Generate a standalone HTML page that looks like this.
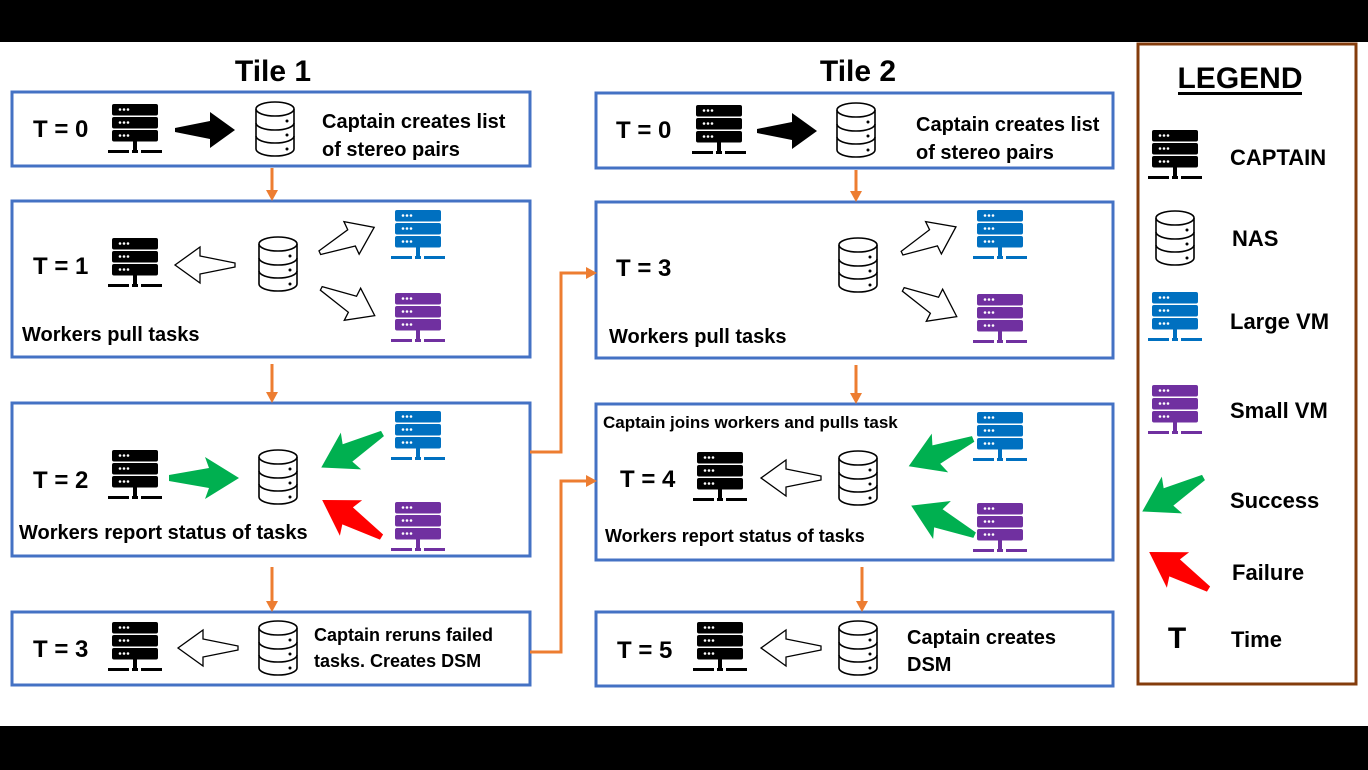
<!DOCTYPE html>
<html><head><meta charset="utf-8"><style>
html,body{margin:0;padding:0;background:#000;}
svg{display:block;}
text{font-family:"Liberation Sans",sans-serif;font-weight:bold;fill:#000;}
</style></head><body>
<svg width="1368" height="770" viewBox="0 0 1368 770" xmlns="http://www.w3.org/2000/svg">
<defs>
<symbol id="srv" viewBox="0 0 46 52" overflow="visible">
  <rect x="0" y="0" width="46" height="11.5" rx="2"/>
  <rect x="0" y="13" width="46" height="11.5" rx="2"/>
  <rect x="0" y="26" width="46" height="11.5" rx="2"/>
  <rect x="21" y="37" width="4" height="10"/>
  <rect x="-4" y="46" width="21" height="3"/>
  <rect x="29" y="46" width="21" height="3"/>
  <rect x="20" y="46" width="6" height="3"/>
  <g fill="#fff"><circle cx="8" cy="5.5" r="1.3"/><circle cx="12" cy="5.5" r="1.3"/><circle cx="16" cy="5.5" r="1.3"/>
  <circle cx="8" cy="18.5" r="1.3"/><circle cx="12" cy="18.5" r="1.3"/><circle cx="16" cy="18.5" r="1.3"/>
  <circle cx="8" cy="31.5" r="1.3"/><circle cx="12" cy="31.5" r="1.3"/><circle cx="16" cy="31.5" r="1.3"/></g>
</symbol>
<symbol id="db" viewBox="0 0 40 56" overflow="visible">
  <g fill="#fff" stroke="#000" stroke-width="1.6">
  <path d="M1,8 L1,48 A19,7 0 0 0 39,48 L39,8"/>
  <ellipse cx="20" cy="8" rx="19" ry="7"/>
  <path d="M1,22 A19,7 0 0 0 39,22" fill="none"/>
  <path d="M1,35 A19,7 0 0 0 39,35" fill="none"/>
  </g>
  <circle cx="32" cy="20" r="1.5"/><circle cx="32" cy="34" r="1.5"/><circle cx="32" cy="48" r="1.5"/>
</symbol>
<symbol id="arr" viewBox="-30 -20 60 40" overflow="visible">
  <polygon points="-30,-2 5,-9 5,-18 30,0 5,18 5,9 -30,2"/>
</symbol>
<symbol id="carr" viewBox="-30 -20 60 40" overflow="visible">
  <polygon points="-36,-3 4,-10 0,-21 34,0 0,21 4,10 -36,3"/>
</symbol>
</defs>
<rect x="0" y="42" width="1368" height="684" fill="#fff"/>

<text x="273" y="81" font-size="30" text-anchor="middle">Tile 1</text>
<text x="858" y="81" font-size="30" text-anchor="middle">Tile 2</text>

<g fill="none" stroke="#4472C4" stroke-width="3">
<rect x="12" y="92" width="518" height="74"/>
<rect x="12" y="201" width="518" height="156"/>
<rect x="12" y="403" width="518" height="153"/>
<rect x="12" y="612" width="518" height="73"/>
<rect x="596" y="93" width="517" height="75"/>
<rect x="596" y="202" width="517" height="156"/>
<rect x="596" y="404" width="517" height="156"/>
<rect x="596" y="612" width="517" height="74"/>
</g>
<rect x="1138" y="44" width="218" height="640" fill="none" stroke="#843C0C" stroke-width="3"/>

<g stroke="#ED7D31" stroke-width="3" fill="none">
<line x1="272" y1="168" x2="272" y2="192"/>
<line x1="272" y1="364" x2="272" y2="394"/>
<line x1="272" y1="567" x2="272" y2="603"/>
<line x1="856" y1="170" x2="856" y2="193"/>
<line x1="856" y1="365" x2="856" y2="395"/>
<line x1="862" y1="567" x2="862" y2="603"/>
<polyline points="530,452 561,452 561,273 588,273"/>
<polyline points="530,652 561,652 561,481 588,481"/>
</g>
<g fill="#ED7D31">
<polygon points="266,190 278,190 272,201"/>
<polygon points="266,392 278,392 272,403"/>
<polygon points="266,601 278,601 272,612"/>
<polygon points="850,191 862,191 856,202"/>
<polygon points="850,393 862,393 856,404"/>
<polygon points="856,601 868,601 862,612"/>
<polygon points="586,267 586,279 597,273"/>
<polygon points="586,475 586,487 597,481"/>
</g>

<text x="33" y="137" font-size="24">T = 0</text>
<use href="#srv" x="112" y="104" width="46" height="52"/>
<use href="#arr" x="175" y="110" width="60" height="40"/>
<use href="#db" x="255" y="101" width="40" height="56"/>
<text x="322" y="128" font-size="20">Captain creates list</text>
<text x="322" y="156" font-size="20">of stereo pairs</text>

<text x="33" y="274" font-size="24">T = 1</text>
<use href="#srv" x="112" y="238" width="46" height="52"/>
<g fill="#fff" stroke="#000" stroke-width="1.3">
<use href="#arr" transform="translate(205,265) rotate(180)" x="-30" y="-20" width="60" height="40"/>
<use href="#arr" transform="translate(347,240) rotate(-25)" x="-30" y="-20" width="60" height="40"/>
<use href="#arr" transform="translate(348,302) rotate(27)" x="-30" y="-20" width="60" height="40"/>
<use href="#arr" transform="translate(208,648) rotate(180)" x="-30" y="-20" width="60" height="40"/>
<use href="#arr" transform="translate(929,240) rotate(-26)" x="-30" y="-20" width="60" height="40"/>
<use href="#arr" transform="translate(930,303) rotate(27)" x="-30" y="-20" width="60" height="40"/>
<use href="#arr" transform="translate(791,478) rotate(180)" x="-30" y="-20" width="60" height="40"/>
<use href="#arr" transform="translate(791,648) rotate(180)" x="-30" y="-20" width="60" height="40"/>
</g>
<use href="#db" x="258" y="236" width="40" height="56"/>
<use href="#srv" x="395" y="210" width="46" height="52" fill="#0070C0"/>
<use href="#srv" x="395" y="293" width="46" height="52" fill="#7030A0"/>
<text x="22" y="341" font-size="20">Workers pull tasks</text>

<text x="33" y="488" font-size="24">T = 2</text>
<use href="#srv" x="112" y="450" width="46" height="52"/>
<use href="#carr" x="175" y="458" width="60" height="40" fill="#00B050"/>
<use href="#db" x="258" y="449" width="40" height="56"/>
<use href="#carr" transform="translate(351,451) rotate(151)" x="-30" y="-20" width="60" height="40" fill="#00B050"/>
<use href="#carr" transform="translate(351,518) rotate(212)" x="-30" y="-20" width="60" height="40" fill="#FF0000"/>
<use href="#srv" x="395" y="411" width="46" height="52" fill="#0070C0"/>
<use href="#srv" x="395" y="502" width="46" height="52" fill="#7030A0"/>
<text x="19" y="539" font-size="20">Workers report status of tasks</text>

<text x="33" y="657" font-size="24">T = 3</text>
<use href="#srv" x="112" y="622" width="46" height="52"/>
<use href="#db" x="258" y="620" width="40" height="56"/>
<text x="314" y="641" font-size="18">Captain reruns failed</text>
<text x="314" y="667" font-size="18">tasks. Creates DSM</text>

<text x="616" y="138" font-size="24">T = 0</text>
<use href="#srv" x="696" y="105" width="46" height="52"/>
<use href="#arr" x="757" y="111" width="60" height="40"/>
<use href="#db" x="836" y="102" width="40" height="56"/>
<text x="916" y="131" font-size="20">Captain creates list</text>
<text x="916" y="159" font-size="20">of stereo pairs</text>

<text x="616" y="276" font-size="24">T = 3</text>
<use href="#db" x="838" y="237" width="40" height="56"/>
<use href="#srv" x="977" y="210" width="46" height="52" fill="#0070C0"/>
<use href="#srv" x="977" y="294" width="46" height="52" fill="#7030A0"/>
<text x="609" y="343" font-size="20">Workers pull tasks</text>

<text x="603" y="428" font-size="17">Captain joins workers and pulls task</text>
<text x="620" y="487" font-size="24">T = 4</text>
<use href="#srv" x="697" y="452" width="46" height="52"/>
<use href="#db" x="838" y="450" width="40" height="56"/>
<use href="#carr" transform="translate(940,453) rotate(157)" x="-30" y="-20" width="60" height="40" fill="#00B050"/>
<use href="#carr" transform="translate(942,520) rotate(205)" x="-30" y="-20" width="60" height="40" fill="#00B050"/>
<use href="#srv" x="977" y="412" width="46" height="52" fill="#0070C0"/>
<use href="#srv" x="977" y="503" width="46" height="52" fill="#7030A0"/>
<text x="605" y="542" font-size="18">Workers report status of tasks</text>

<text x="617" y="658" font-size="24">T = 5</text>
<use href="#srv" x="697" y="622" width="46" height="52"/>
<use href="#db" x="838" y="620" width="40" height="56"/>
<text x="907" y="644" font-size="20">Captain creates</text>
<text x="907" y="671" font-size="20">DSM</text>

<text x="1240" y="88" font-size="30" text-anchor="middle">LEGEND</text>
<rect x="1178" y="92" width="124" height="3" fill="#000"/>
<use href="#srv" x="1152" y="130" width="46" height="52"/>
<text x="1230" y="165" font-size="22">CAPTAIN</text>
<use href="#db" x="1155" y="210" width="40" height="56"/>
<text x="1232" y="246" font-size="22">NAS</text>
<use href="#srv" x="1152" y="292" width="46" height="52" fill="#0070C0"/>
<text x="1230" y="329" font-size="22">Large VM</text>
<use href="#srv" x="1152" y="385" width="46" height="52" fill="#7030A0"/>
<text x="1230" y="418" font-size="22">Small VM</text>
<use href="#carr" transform="translate(1172,495) rotate(151)" x="-30" y="-20" width="60" height="40" fill="#00B050"/>
<text x="1230" y="508" font-size="22">Success</text>
<use href="#carr" transform="translate(1178,570) rotate(212)" x="-30" y="-20" width="60" height="40" fill="#FF0000"/>
<text x="1232" y="580" font-size="22">Failure</text>
<text x="1177" y="648" font-size="30" text-anchor="middle">T</text>
<text x="1231" y="647" font-size="22">Time</text>
</svg>
</body></html>
